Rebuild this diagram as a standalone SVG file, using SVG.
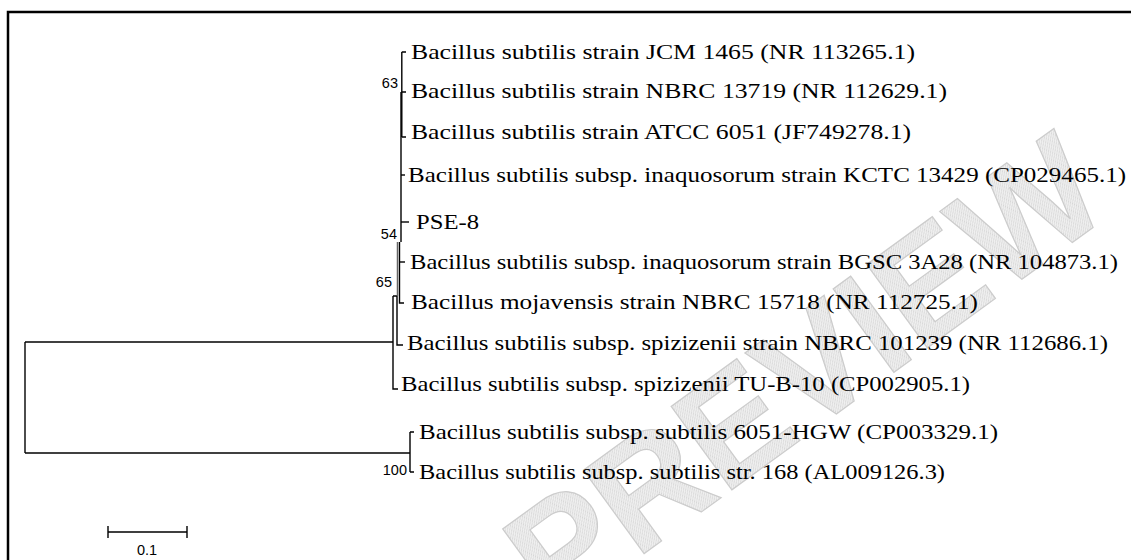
<svg xmlns="http://www.w3.org/2000/svg" width="1131" height="560" viewBox="0 0 1131 560">
<style>
.leaf{font-family:"Liberation Serif","Times New Roman",serif;font-size:21px;fill:#000}
.bs{font-family:"Liberation Sans",Arial,sans-serif;font-size:14.5px;fill:#000;text-anchor:end}
.br{stroke:#000;stroke-width:1.4;fill:none}
.wm{font-family:"Liberation Sans",Arial,sans-serif;font-weight:bold;font-size:150px;fill:url(#hatch);stroke:#cccccc;stroke-width:1.2}
</style>
<defs>
<pattern id="hatch" width="3" height="3" patternUnits="userSpaceOnUse">
<rect width="3" height="3" fill="#f0f0f0"/>
<path d="M0,3 L3,0" stroke="#d6d6d6" stroke-width="1"/>
</pattern>
</defs>
<rect width="1131" height="560" fill="#fff"/>
<g id="watermark">
<text class="wm" x="0" y="0" text-anchor="middle" transform="translate(835,415) rotate(-36)">PREVIEW</text>
</g>
<g id="frame">
<path d="M8,560 V12 H1131" stroke="#000" stroke-width="2.5" fill="none"/>
</g>
<g id="connectors" class="br">
<path d="M25,342 V453"/>
<path d="M25,342 H393"/>
<path d="M25,453 H410"/>
<path d="M410,432 V472 M410,432 H414 M410,472 H414"/>
<path d="M393,296 V389 H398"/>
<path d="M393,296 H397 V345 H403"/>
<path d="M399.5,242 V303 H404"/>
<path d="M401,92 V242"/>
<path d="M401.8,52 V137"/>
<path d="M401.8,52 H406 M401.8,92 H406 M401.8,137 H406"/>
<path d="M401,175 H405"/>
<path d="M401,222 H409"/>
<path d="M399.5,262 H405"/>
<path d="M397.5,242 V296" stroke="#666" stroke-width="1.5"/>
</g>
<g id="n-jcm"><text class="leaf" x="411" y="59" textLength="504" lengthAdjust="spacingAndGlyphs">Bacillus subtilis strain JCM 1465 (NR 113265.1)</text></g>
<g id="n-nbrc13719"><text class="leaf" x="411" y="98" textLength="536" lengthAdjust="spacingAndGlyphs">Bacillus subtilis strain NBRC 13719 (NR 112629.1)</text></g>
<g id="n-atcc"><text class="leaf" x="411" y="139" textLength="500" lengthAdjust="spacingAndGlyphs">Bacillus subtilis strain ATCC 6051 (JF749278.1)</text></g>
<g id="n-kctc"><text class="leaf" x="408" y="182" textLength="718" lengthAdjust="spacingAndGlyphs">Bacillus subtilis subsp. inaquosorum strain KCTC 13429 (CP029465.1)</text></g>
<g id="n-pse8"><text class="leaf" x="416" y="229" textLength="63" lengthAdjust="spacingAndGlyphs">PSE-8</text></g>
<g id="n-bgsc"><text class="leaf" x="410" y="269" textLength="708" lengthAdjust="spacingAndGlyphs">Bacillus subtilis subsp. inaquosorum strain BGSC 3A28 (NR 104873.1)</text></g>
<g id="n-mojavensis"><text class="leaf" x="411" y="309" textLength="567" lengthAdjust="spacingAndGlyphs">Bacillus mojavensis strain NBRC 15718 (NR 112725.1)</text></g>
<g id="n-nbrc101239"><text class="leaf" x="407" y="350" textLength="701" lengthAdjust="spacingAndGlyphs">Bacillus subtilis subsp. spizizenii strain NBRC 101239 (NR 112686.1)</text></g>
<g id="n-tub10"><text class="leaf" x="401" y="391" textLength="569" lengthAdjust="spacingAndGlyphs">Bacillus subtilis subsp. spizizenii TU-B-10 (CP002905.1)</text></g>
<g id="n-hgw"><text class="leaf" x="419" y="439" textLength="579" lengthAdjust="spacingAndGlyphs">Bacillus subtilis subsp. subtilis 6051-HGW (CP003329.1)</text></g>
<g id="n-168"><text class="leaf" x="419" y="479" textLength="526" lengthAdjust="spacingAndGlyphs">Bacillus subtilis subsp. subtilis str. 168 (AL009126.3)</text></g>
<g id="bootstrap">
<text class="bs" x="398" y="88">63</text>
<text class="bs" x="397" y="239">54</text>
<text class="bs" x="392" y="287">65</text>
<text class="bs" x="407" y="475">100</text>
</g>
<g id="scale">
<path d="M108,532 H187 M108,526 V538 M187,526 V538" stroke="#000" stroke-width="1.4" fill="none"/>
<text class="bs" x="147" y="555" style="text-anchor:middle">0.1</text>
</g>
</svg>
